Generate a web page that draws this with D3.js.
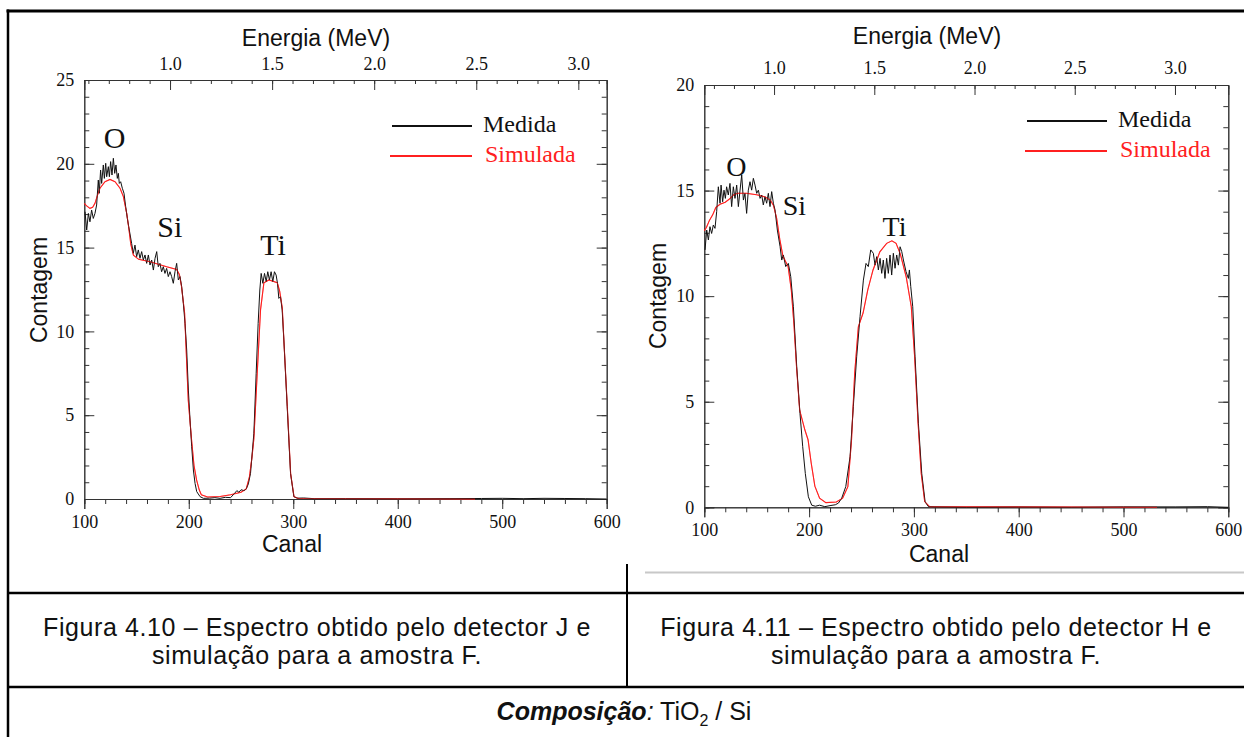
<!DOCTYPE html>
<html>
<head>
<meta charset="utf-8">
<script src="https://cdn.jsdelivr.net/npm/d3@7"></script>
<style>
body { margin: 0; background: #fff; }
svg { display: block; }
</style>
</head>
<body>
<script>
// valores
const canalTicks = [100, 200, 300, 400, 500, 600];
const energiaTicks = [1.0, 1.5, 2.0, 2.5, 3.0];
const contagemTicksJ = [0, 5, 10, 15, 20, 25];
const contagemTicksH = [0, 5, 10, 15, 20];
const legenda = ["Medida", "Simulada"];
const energiaDominioJ = [0.580, 3.139];
const energiaDominioH = [0.652, 3.266];

// [canal, contagem]
const medidaJ = [[100.7,17.14],[102.3,16.05],[103.9,17.04],[105.4,16.54],[107.0,17.24],[108.6,16.74],[110.2,17.04],[111.8,17.54],[113.4,19.03],[114.3,18.24],[115.6,19.63],[116.6,18.83],[118.2,19.93],[119.2,19.13],[120.5,20.03],[121.4,19.23],[123.0,19.83],[124.0,19.23],[125.2,20.13],[126.5,19.33],[127.8,20.33],[129.1,19.43],[130.3,19.93],[131.6,19.13],[132.6,19.43],[133.5,18.83],[134.8,18.93],[136.4,18.54],[138.0,18.24],[139.6,17.44],[141.2,16.74],[142.5,16.25],[145.3,15.25],[146.9,14.66],[148.5,15.15],[150.1,14.46],[151.7,14.86],[153.3,14.36],[154.9,14.76],[156.5,14.26],[158.1,14.56],[159.7,14.06],[161.3,14.56],[162.9,13.96],[164.5,14.26],[166.1,13.66],[167.7,14.36],[169.3,14.76],[170.8,13.86],[172.4,14.06],[174.0,13.56],[175.6,13.86],[177.2,13.46],[178.8,13.76],[180.4,13.27],[182.0,13.56],[183.6,13.27],[185.2,12.87],[186.8,13.56],[188.4,14.06],[190.0,13.07],[191.6,13.27],[193.2,12.67],[194.8,11.67],[196.4,10.48],[198.0,8.89],[199.6,6.5],[201.2,4.71],[202.8,3.12],[204.4,1.73],[206.0,0.93],[207.6,0.44],[210.8,0.14],[214.0,0.04],[220,0.05],[225,0.08],[230,0.04],[235,0.1],[240,0.08],[244,0.35],[246,0.5],[248,0.4],[250,0.55],[253,0.5],[255,0.6],[257,0.9],[259.1,1.53],[262.3,3.92],[264.5,7.5],[266.4,10.48],[268.0,12.47],[269.3,13.46],[270.9,12.87],[272.5,13.46],[274.1,12.97],[275.6,13.56],[277.2,13.07],[278.8,13.56],[280.4,12.97],[282.0,13.56],[283.6,13.36],[284.9,12.87],[286.2,11.97],[287.8,12.07],[289.4,11.27],[291.0,9.49],[294.2,5.51],[297.4,1.53],[300.6,0.14],[303.8,0.05],[310,0.06],[320,0.02],[350,0.02],[400,0.01],[450,0.02],[480,0.03],[500,0.04],[520,0.02],[540,0.04],[560,0.03],[580,0.02],[600,0]];

const simuladaJ = [[100,17.64],[102,17.5],[105.4,17.34],[108,17.4],[110.2,17.64],[112.5,18.1],[115,18.54],[119.8,18.93],[124.6,19.07],[129.4,18.93],[134.2,18.54],[137.4,18.04],[140.6,17.04],[142.5,16.2],[144.5,15.2],[147,14.55],[152,14.3],[162.9,14.16],[178.8,13.86],[188.4,13.7],[191,13.4],[193,12.7],[196,11.1],[199.5,5.9],[202.7,3.5],[205,2.0],[207.5,1.13],[210,0.55],[212,0.25],[218,0.12],[230,0.15],[240,0.25],[250,0.4],[255,0.6],[258,1.3],[260.5,2.5],[262.3,3.6],[265.5,7.5],[268.7,11.3],[271.9,12.9],[276.7,13.07],[284.7,12.9],[287,12.4],[289.5,11.4],[291,9.5],[294.3,5.5],[297.5,1.5],[300.7,0.14],[305,0.03],[474,0.0]];

const medidaH = [[100.7,12.19],[102.3,13.13],[103.9,12.66],[105.4,13.29],[107.0,12.97],[108.6,13.37],[110.2,13.21],[111.8,14.0],[113.4,15.18],[115.0,14.4],[116.0,15.26],[117.5,14.47],[118.8,15.02],[120.1,14.63],[121.3,15.18],[122.9,14.79],[124.5,15.34],[126.1,14.24],[127.7,15.18],[129.3,14.63],[130.9,15.26],[132.5,14.24],[134.1,15.02],[135.7,15.74],[137.3,14.55],[138.8,14.87],[140.4,13.92],[142.0,15.02],[143.6,15.42],[145.2,15.02],[146.8,15.58],[148.4,15.26],[150.0,14.87],[151.6,15.02],[153.2,14.63],[154.8,14.79],[156.3,14.32],[157.9,14.71],[159.5,14.4],[161.1,14.87],[162.7,14.24],[164.3,14.95],[165.9,14.4],[167.5,14.08],[169.7,13.13],[172.3,12.35],[173.9,11.71],[175.4,11.95],[177.7,11.4],[180.2,11.55],[182.5,10.92],[185.0,9.5],[188.2,6.66],[191.3,4.45],[193.9,2.87],[196.4,1.6],[199.3,0.5],[202.5,0.1],[206,0.05],[210,0.1],[215,0.03],[220,0.08],[225,0.12],[228,0.2],[231.1,0.43],[235,0.98],[239.1,2.4],[242.2,4.77],[245.4,7.13],[248.6,9.03],[251.8,10.76],[254.3,11.55],[256.5,11.4],[258.8,12.19],[261.3,12.03],[262.9,11.47],[264.5,11.87],[266.1,11.24],[267.7,11.79],[269.3,11.08],[270.8,11.71],[272.4,10.84],[274.0,11.79],[275.6,11.08],[277.2,11.95],[278.8,11.0],[280.4,12.03],[282.0,11.32],[283.6,11.95],[285.2,11.47],[286.8,12.34],[288.4,12.11],[290.0,11.71],[292.5,11.16],[294.7,10.84],[295.7,11.24],[297.0,10.45],[298.9,9.5],[301.1,7.13],[304.3,3.98],[307.5,1.6],[310.7,0.26],[313.9,0.03],[320,0.02],[350,0.0],[400,0.01],[450,0.0],[500,0.02],[550,0.02],[580,0.03],[600,0.0]];

const simuladaH = [[100,13.1],[102,13.25],[105,13.6],[108,13.85],[111,14.2],[115,14.35],[120,14.45],[124,14.6],[128,14.8],[132,14.87],[140,14.87],[150,14.8],[158,14.7],[163,14.55],[166,14.3],[169,13.7],[172,12.7],[175,11.9],[180,11.4],[183,10.3],[185.5,8.7],[188,6.66],[191,4.6],[196,3.66],[199,3.2],[202,2.1],[205.5,1.0],[210,0.43],[216,0.22],[226,0.25],[232,0.43],[237,0.98],[240.5,3.2],[243.5,6.35],[247,8.55],[251.5,9.2],[256,10.3],[261,11.24],[267.5,12.1],[274,12.5],[279,12.62],[283,12.5],[287,12.0],[292.7,10.9],[297.5,9.5],[300.7,7.13],[304,3.98],[307,1.6],[310.3,0.27],[315,0.03],[532,0.0]];

// rótulos dos picos [nome, canal, contagem]
const picosJ = [["O",129.1,20.94],["Si",169.9,15.63],["Ti",280.6,14.56]];
const picosH = [["O",130.5,15.71],["Si",174.8,13.82],["Ti",281.5,12.83]];

const W = 1244, H = 737;
const serif = "'Liberation Serif', 'Times New Roman', serif";
const sans = "'Liberation Sans', Arial, sans-serif";

const svg = d3.select("body").append("svg").attr("width", W).attr("height", H);

function painel(cfg) {
  const x = d3.scaleLinear().domain([100, 600]).range([cfg.x0, cfg.x1]);
  const xe = d3.scaleLinear().domain(cfg.eDom).range([cfg.x0, cfg.x1]);
  const y = d3.scaleLinear().domain([0, cfg.yMax]).range([cfg.y0, cfg.y1]);
  const g = svg.append("g");
  const axisCol = "#333";

  // eixo de baixo (canal)
  const minorX = d3.range(100, 601, 20);
  g.append("g").attr("transform", `translate(0,${cfg.y0})`)
    .call(d3.axisBottom(x).tickValues(minorX).tickSize(5).tickFormat(""));
  g.append("g").attr("transform", `translate(0,${cfg.y0})`)
    .call(d3.axisBottom(x).tickValues(canalTicks).tickSize(10).tickPadding(6).tickFormat(d3.format("d")))
    .call(a => a.selectAll("text").attr("font-size", 18).attr("font-family", serif).attr("fill", "#111"));

  // eixo de cima (energia)
  const minorE = d3.range(Math.ceil(cfg.eDom[0] * 10), Math.floor(cfg.eDom[1] * 10) + 1).map(d => d / 10);
  g.append("g").attr("transform", `translate(0,${cfg.y1})`)
    .call(d3.axisTop(xe).tickValues(minorE).tickSize(-4).tickFormat(""));
  g.append("g").attr("transform", `translate(0,${cfg.y1})`)
    .call(d3.axisTop(xe).tickValues(energiaTicks).tickSize(-10).tickPadding(cfg.ePad).tickFormat(d3.format(".1f")))
    .call(a => a.selectAll("text").attr("font-size", 18).attr("font-family", serif).attr("fill", "#111"));

  // eixo esquerdo e direito (contagem)
  const minorY = d3.range(0, cfg.yMax + 1, 1);
  g.append("g").attr("transform", `translate(${cfg.x0},0)`)
    .call(d3.axisLeft(y).tickValues(minorY).tickSize(-5).tickFormat(""));
  g.append("g").attr("transform", `translate(${cfg.x0},0)`)
    .call(d3.axisLeft(y).tickValues(cfg.yTicks).tickSize(-10).tickPadding(10).tickFormat(d3.format("d")))
    .call(a => a.selectAll("text").attr("font-size", 18).attr("font-family", serif).attr("fill", "#111"));
  g.append("g").attr("transform", `translate(${cfg.x1},0)`)
    .call(d3.axisRight(y).tickValues(minorY).tickSize(-5).tickFormat(""));
  g.append("g").attr("transform", `translate(${cfg.x1},0)`)
    .call(d3.axisRight(y).tickValues(cfg.yTicks).tickSize(-10).tickFormat(""));

  g.selectAll(".domain").attr("stroke", axisCol);
  g.selectAll(".tick line").attr("stroke", axisCol);

  // curvas
  const linha = d3.line().x(d => x(d[0])).y(d => y(d[1]));
  g.append("path").datum(cfg.sim).attr("d", linha)
    .attr("fill", "none").attr("stroke", "#ff2020").attr("stroke-width", 1.1);
  g.append("path").datum(cfg.med).attr("d", linha)
    .attr("fill", "none").attr("stroke", "#111").attr("stroke-width", 1);
  // simulada por cima nas partes lisas
  g.append("path").datum(cfg.sim).attr("d", linha)
    .attr("fill", "none").attr("stroke", "#ff2020").attr("stroke-width", 0.8).attr("opacity", 0.6);

  // rótulos dos picos
  g.selectAll(".pico").data(cfg.picos).join("text")
    .attr("x", d => x(d[1])).attr("y", d => y(d[2]))
    .attr("text-anchor", (d, i) => i === 1 ? "start" : "middle")
    .attr("font-family", serif).attr("font-size", cfg.picoFs).attr("fill", "#111")
    .text(d => d[0]);

  // legenda
  const cores = ["#111", "#ff2020"];
  legenda.forEach((nome, i) => {
    const ly = cfg.legY[i];
    g.append("line").attr("x1", cfg.legX[0] - (i ? 2 : 0)).attr("x2", cfg.legX[1])
      .attr("y1", ly).attr("y2", ly).attr("stroke", cores[i]).attr("stroke-width", 2);
    g.append("text").attr("x", cfg.legX[1] + 11 + (i ? 2 : 0)).attr("y", ly + 5.5)
      .attr("font-family", serif).attr("font-size", 24).attr("fill", cores[i]).text(nome);
  });

  // títulos dos eixos
  g.append("text").attr("x", cfg.eTitle[0]).attr("y", cfg.eTitle[1]).attr("text-anchor", "middle")
    .attr("font-family", sans).attr("font-size", 23).attr("fill", "#111").text("Energia (MeV)");
  g.append("text").attr("x", cfg.cTitle[0]).attr("y", cfg.cTitle[1]).attr("text-anchor", "middle")
    .attr("font-family", sans).attr("font-size", 23).attr("fill", "#111").text("Canal");
  g.append("text").attr("transform", `translate(${cfg.yTitle[0]},${cfg.yTitle[1]}) rotate(-90)`)
    .attr("text-anchor", "middle").attr("font-family", sans).attr("font-size", 23).attr("fill", "#111")
    .text("Contagem");
}

painel({
  x0: 84.3, x1: 606.7, y0: 499, y1: 80, yMax: 25, yTicks: contagemTicksJ,
  eDom: energiaDominioJ, ePad: 10, med: medidaJ, sim: simuladaJ, picos: picosJ, picoFs: 30,
  legX: [392, 472], legY: [126, 156], eTitle: [316, 46], cTitle: [292, 552], yTitle: [47, 290]
});
painel({
  x0: 704.3, x1: 1228.3, y0: 507.3, y1: 85, yMax: 20, yTicks: contagemTicksH,
  eDom: energiaDominioH, ePad: 11, med: medidaH, sim: simuladaH, picos: picosH, picoFs: 28,
  legX: [1027, 1107], legY: [121, 151], eTitle: [927, 44], cTitle: [939, 562], yTitle: [666, 296]
});

// tabela
const tab = svg.append("g").attr("stroke", "#000").attr("fill", "none");
tab.append("line").attr("x1", 6.5).attr("x2", W).attr("y1", 11).attr("y2", 11).attr("stroke-width", 3);
tab.append("line").attr("x1", 8).attr("x2", 8).attr("y1", 9.5).attr("y2", H).attr("stroke-width", 2.5);
tab.append("line").attr("x1", 8).attr("x2", W).attr("y1", 593).attr("y2", 593).attr("stroke-width", 2.5);
tab.append("line").attr("x1", 8).attr("x2", W).attr("y1", 687).attr("y2", 687).attr("stroke-width", 2.5);
tab.append("line").attr("x1", 627).attr("x2", 627).attr("y1", 564).attr("y2", 687).attr("stroke-width", 2);
svg.append("line").attr("x1", 645).attr("x2", W).attr("y1", 572.5).attr("y2", 572.5)
  .attr("stroke", "#c8c8c8").attr("stroke-width", 2);

// legendas das figuras
const legendasFig = [
  [317, ["Figura 4.10 – Espectro obtido pelo detector J e", "simulação para a amostra F."]],
  [936, ["Figura 4.11 – Espectro obtido pelo detector H e", "simulação para a amostra F."]]
];
legendasFig.forEach(([cx, linhas]) => {
  linhas.forEach((t, i) => {
    svg.append("text").attr("x", cx).attr("y", 636 + i * 28).attr("text-anchor", "middle")
      .attr("font-family", sans).attr("font-size", 25).attr("letter-spacing", 0.6)
      .attr("fill", "#111").text(t);
  });
});
const comp = svg.append("text").attr("x", 624).attr("y", 720).attr("text-anchor", "middle")
  .attr("font-family", sans).attr("font-size", 25).attr("fill", "#111");
comp.append("tspan").attr("font-weight", "bold").attr("font-style", "italic").text("Composição");
comp.append("tspan").attr("font-style", "italic").text(":");
comp.append("tspan").text(" TiO");
comp.append("tspan").attr("font-size", 16).attr("dy", 6).text("2");
comp.append("tspan").attr("dy", -6).text(" / Si");
</script>
</body>
</html>
